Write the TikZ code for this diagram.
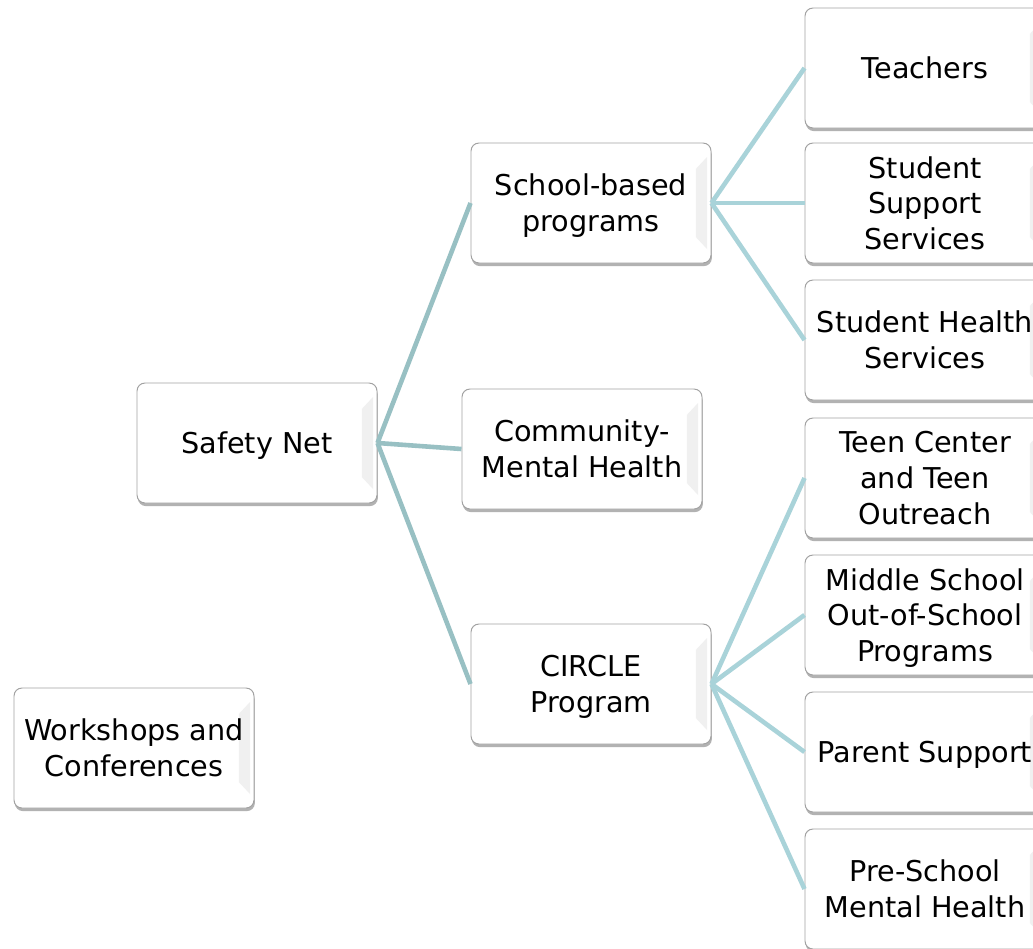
\documentclass[tikz,border=0pt]{standalone}
\usepackage{fontspec}
\setmainfont{DejaVu Sans}
\usetikzlibrary{positioning}
\usetikzlibrary{shadows}
\definecolor{trunkline}{HTML}{98C0C3}
\definecolor{branchline}{HTML}{A9D3D9}
\definecolor{boxedge}{HTML}{A2A2A2}

\begin{document}
\begin{tikzpicture}
    [
    on grid,
    every node/.style={font=\fontsize{20.4}{25.5}\selectfont},
    unit/.style={rectangle, rounded corners=0.2cm, draw=boxedge, line width=0.7pt, fill=white,
        minimum width=6cm, minimum height=3cm, align=center, inner sep=0pt,
        text depth=-0.12cm,
        drop shadow={shadow xshift=0.6pt, shadow yshift=-2.2pt, opacity=0.5, fill=black!60},
        path picture={\fill[black!6, sharp corners]
            ([xshift=-0.38cm,yshift=-0.65cm]path picture bounding box.north east)
            -- ([xshift=-0.1cm,yshift=-0.35cm]path picture bounding box.north east)
            -- ([xshift=-0.1cm,yshift=0.35cm]path picture bounding box.south east)
            -- ([xshift=-0.38cm,yshift=0.65cm]path picture bounding box.south east) -- cycle;}},
    trunk/.style={draw=trunkline, line width=0.115cm},
    branch/.style={draw=branchline, line width=0.115cm},
    ]

    \useasboundingbox (0,0) rectangle (25.825,-23.725);
    \clip (0,0) rectangle (25.825,-23.725);

    \node[unit] (net_safety) at (6.425,-11.075) {Safety Net};
    \node[unit, above right = 6cm and 8.35cm of net_safety] (prog_school) {School-based\\programs};
    \node[unit] (prog_community) at (14.55,-11.225) {Community-\\Mental Health};
    \node[unit, below right = 6.025cm and 8.35cm of net_safety] (prog_circle) {CIRCLE\\Program};
    \node[unit] (prog_workshops) at (3.35,-18.7) {Workshops and\\Conferences};

    \node[unit, above right = 3.375cm and 8.35cm of prog_school] (svc_teachers) {Teachers};
    \node[unit, right = 8.35cm of prog_school] (svc_support) {Student\\Support\\Services};
    \node[unit, below right = 3.425cm and 8.35cm of prog_school] (svc_health) {Student Health\\Services};

    \node[unit, below = 3.45cm of svc_health] (svc_teen) {Teen Center\\and Teen\\Outreach};
    \node[unit, below = 3.425cm of svc_teen] (svc_middle) {Middle School\\Out-of-School\\Programs};
    \node[unit, below = 3.425cm of svc_middle] (svc_parent) {Parent Support};
    \node[unit, below = 3.425cm of svc_parent] (svc_preschool) {Pre-School\\Mental Health};

    \path[trunk] (net_safety.east) -- (prog_school.west);
    \path[trunk] (net_safety.east) -- (prog_community.west);
    \path[trunk] (net_safety.east) -- (prog_circle.west);

    \foreach \kid in {svc_teachers, svc_support, svc_health}
        \path[branch] (prog_school.east) -- (\kid.west);
    \foreach \kid in {svc_teen, svc_middle, svc_parent, svc_preschool}
        \path[branch] (prog_circle.east) -- (\kid.west);
\end{tikzpicture}
\end{document}
